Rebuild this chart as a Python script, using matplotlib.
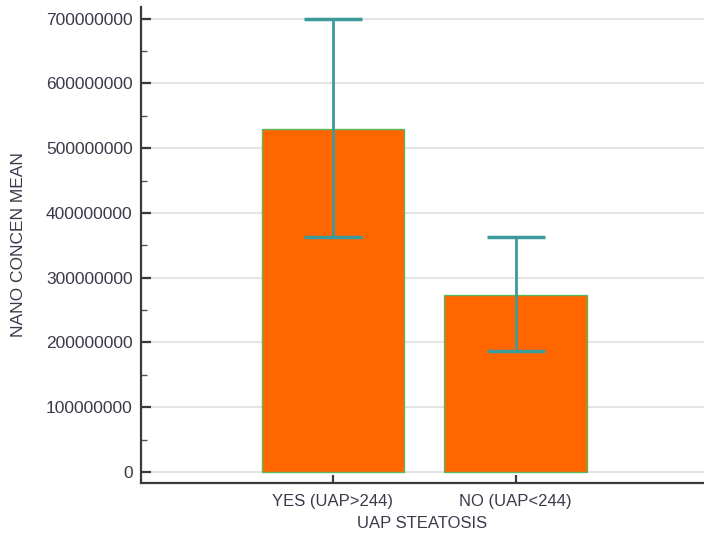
import matplotlib
matplotlib.use("Agg")
import matplotlib.pyplot as plt
from matplotlib.ticker import MultipleLocator
import numpy as np

categories = ["YES (UAP>244)", "NO (UAP<244)"]
means = [530000000, 274000000]
err_low = [363000000, 187000000]
err_high = [700000000, 363000000]
y_ticks = [0, 100000000, 200000000, 300000000, 400000000, 500000000, 600000000, 700000000]

plt.rcParams['font.family'] = ['Liberation Sans', 'DejaVu Sans']
text_color = '#3a3a4a'

fig = plt.figure(figsize=(7.04, 5.4), dpi=100)
ax = fig.add_axes([0.2003, 0.1056, 0.7997, 0.8814])

x = np.arange(len(categories))
means_a = np.array(means)
yerr = np.vstack([means_a - np.array(err_low), np.array(err_high) - means_a])

ax.bar(x, means, width=0.78, color='#FF6600', edgecolor='#5cb85c', linewidth=1.0, zorder=2)
ax.errorbar(x, means, yerr=yerr, fmt='none', ecolor='#3d9a9a', elinewidth=2.0,
            capsize=21, capthick=2.5, zorder=3)

ax.set_xlim(-1.05, 2.03)
ax.set_ylim(-17000000, 718000000)
ax.set_yticks(y_ticks)
ax.set_yticklabels([str(v) for v in y_ticks])
ax.yaxis.set_minor_locator(MultipleLocator(50000000))
ax.set_xticks(x)
ax.set_xticklabels(categories)

ax.grid(axis='y', color='#e4e4e4', linewidth=1.5, zorder=0)
ax.set_axisbelow(True)

for s in ['top', 'right']:
    ax.spines[s].set_visible(False)
for s in ['left', 'bottom']:
    ax.spines[s].set_color('#3a3a3a')
    ax.spines[s].set_linewidth(1.6)

ax.tick_params(axis='y', which='major', direction='in', length=7, width=1.6,
               color='#3a3a3a', labelsize=12.5, labelcolor=text_color, pad=6)
ax.tick_params(axis='y', which='minor', direction='in', length=4, width=1.0, color='#555555')
ax.tick_params(axis='x', which='major', direction='in', length=6, width=1.6,
               color='#3a3a3a', labelsize=12, labelcolor=text_color, pad=8)

ax.set_xlabel('UAP STEATOSIS', fontsize=12, color=text_color, labelpad=5)
ax.set_ylabel('NANO CONCEN MEAN', fontsize=12.5, color=text_color, labelpad=14)

fig.savefig('out.png', dpi=100)
